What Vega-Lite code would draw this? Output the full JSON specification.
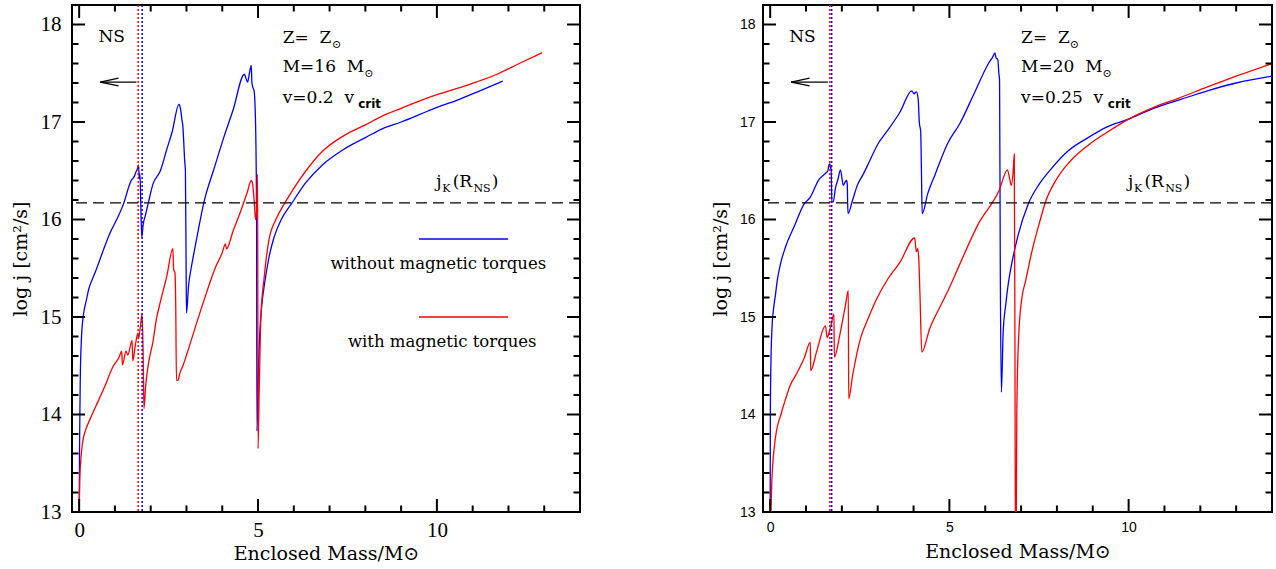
{
"$schema": "https://vega.github.io/schema/vega-lite/v6.json",
"padding": {"left": 10, "top": 3, "right": 0, "bottom": 0},
"spacing": 128,
"config": {"view": {"stroke": "black", "strokeWidth": 2}, "axis": {"grid": false, "domain": false, "ticks": false, "tickSize": 0, "labelColor": "black", "titleColor": "black", "titleFontWeight": "normal", "labelFlush": false}},
"datasets": {
"Lc": [
{"s":"without","m":0.0,"j":13.0},{"s":"without","m":0.01,"j":13.6},{"s":"without","m":0.02,"j":14.0},{"s":"without","m":0.03,"j":14.33},{"s":"without","m":0.06,"j":14.75},{"s":"without","m":0.09,"j":14.93},{"s":"without","m":0.13,"j":15.05},{"s":"without","m":0.2,"j":15.17},{"s":"without","m":0.27,"j":15.29},{"s":"without","m":0.36,"j":15.38},{"s":"without","m":0.46,"j":15.47},{"s":"without","m":0.65,"j":15.66},{"s":"without","m":0.86,"j":15.86},{"s":"without","m":1.05,"j":16.0},{"s":"without","m":1.24,"j":16.16},{"s":"without","m":1.42,"j":16.37},{"s":"without","m":1.47,"j":16.41},{"s":"without","m":1.5,"j":16.42},{"s":"without","m":1.55,"j":16.45},{"s":"without","m":1.59,"j":16.49},{"s":"without","m":1.63,"j":16.52},{"s":"without","m":1.66,"j":16.56},{"s":"without","m":1.68,"j":16.42},{"s":"without","m":1.7,"j":16.47},{"s":"without","m":1.72,"j":16.2},{"s":"without","m":1.75,"j":15.82},{"s":"without","m":1.79,"j":15.95},{"s":"without","m":1.85,"j":16.04},{"s":"without","m":1.94,"j":16.18},{"s":"without","m":2.06,"j":16.36},{"s":"without","m":2.27,"j":16.5},{"s":"without","m":2.45,"j":16.72},{"s":"without","m":2.6,"j":16.9},{"s":"without","m":2.79,"j":17.18},{"s":"without","m":2.81,"j":17.17},{"s":"without","m":2.84,"j":17.12},{"s":"without","m":2.87,"j":17.03},{"s":"without","m":2.9,"j":16.95},{"s":"without","m":2.92,"j":16.82},{"s":"without","m":2.95,"j":16.6},{"s":"without","m":2.97,"j":16.5},{"s":"without","m":2.99,"j":15.5},{"s":"without","m":3.0,"j":15.04},{"s":"without","m":3.06,"j":15.33},{"s":"without","m":3.13,"j":15.5},{"s":"without","m":3.21,"j":15.66},{"s":"without","m":3.35,"j":15.93},{"s":"without","m":3.49,"j":16.18},{"s":"without","m":3.77,"j":16.52},{"s":"without","m":4.05,"j":16.85},{"s":"without","m":4.3,"j":17.12},{"s":"without","m":4.62,"j":17.49},{"s":"without","m":4.66,"j":17.45},{"s":"without","m":4.71,"j":17.41},{"s":"without","m":4.76,"j":17.5},{"s":"without","m":4.81,"j":17.58},{"s":"without","m":4.83,"j":17.4},{"s":"without","m":4.86,"j":17.35},{"s":"without","m":4.89,"j":17.32},{"s":"without","m":4.93,"j":17.0},{"s":"without","m":4.95,"j":16.5},{"s":"without","m":4.96,"j":16.0},{"s":"without","m":4.97,"j":13.83},{"s":"without","m":5.0,"j":14.3},{"s":"without","m":5.05,"j":14.84},{"s":"without","m":5.1,"j":15.1},{"s":"without","m":5.19,"j":15.36},{"s":"without","m":5.3,"j":15.6},{"s":"without","m":5.45,"j":15.82},{"s":"without","m":5.65,"j":16.0},{"s":"without","m":5.95,"j":16.17},{"s":"without","m":6.34,"j":16.38},{"s":"without","m":6.8,"j":16.56},{"s":"without","m":7.4,"j":16.72},{"s":"without","m":8.0,"j":16.84},{"s":"without","m":8.47,"j":16.93},{"s":"without","m":9.0,"j":17.0},{"s":"without","m":9.54,"j":17.08},{"s":"without","m":10.0,"j":17.15},{"s":"without","m":10.61,"j":17.23},{"s":"without","m":11.2,"j":17.32},{"s":"without","m":11.84,"j":17.42},
{"s":"with","m":0.0,"j":13.0},{"s":"with","m":0.02,"j":13.35},{"s":"with","m":0.05,"j":13.55},{"s":"with","m":0.09,"j":13.7},{"s":"with","m":0.19,"j":13.85},{"s":"with","m":0.3,"j":13.95},{"s":"with","m":0.46,"j":14.08},{"s":"with","m":0.73,"j":14.3},{"s":"with","m":0.93,"j":14.48},{"s":"with","m":1.12,"j":14.59},{"s":"with","m":1.19,"j":14.65},{"s":"with","m":1.21,"j":14.51},{"s":"with","m":1.31,"j":14.65},{"s":"with","m":1.36,"j":14.61},{"s":"with","m":1.48,"j":14.76},{"s":"with","m":1.5,"j":14.55},{"s":"with","m":1.57,"j":14.71},{"s":"with","m":1.64,"j":14.83},{"s":"with","m":1.66,"j":14.78},{"s":"with","m":1.71,"j":14.9},{"s":"with","m":1.76,"j":15.03},{"s":"with","m":1.79,"j":14.6},{"s":"with","m":1.81,"j":14.06},{"s":"with","m":1.86,"j":14.3},{"s":"with","m":1.95,"j":14.55},{"s":"with","m":2.06,"j":14.74},{"s":"with","m":2.16,"j":14.98},{"s":"with","m":2.28,"j":15.17},{"s":"with","m":2.45,"j":15.42},{"s":"with","m":2.62,"j":15.7},{"s":"with","m":2.64,"j":15.49},{"s":"with","m":2.66,"j":15.47},{"s":"with","m":2.68,"j":15.45},{"s":"with","m":2.7,"j":15.1},{"s":"with","m":2.72,"j":14.35},{"s":"with","m":2.76,"j":14.35},{"s":"with","m":2.82,"j":14.43},{"s":"with","m":2.9,"j":14.5},{"s":"with","m":3.01,"j":14.62},{"s":"with","m":3.2,"j":14.84},{"s":"with","m":3.39,"j":15.06},{"s":"with","m":3.56,"j":15.25},{"s":"with","m":3.8,"j":15.5},{"s":"with","m":4.0,"j":15.66},{"s":"with","m":4.09,"j":15.75},{"s":"with","m":4.12,"j":15.7},{"s":"with","m":4.3,"j":15.88},{"s":"with","m":4.52,"j":16.09},{"s":"with","m":4.7,"j":16.28},{"s":"with","m":4.81,"j":16.4},{"s":"with","m":4.85,"j":16.36},{"s":"with","m":4.9,"j":16.15},{"s":"with","m":4.93,"j":16.0},{"s":"with","m":4.96,"j":16.1},{"s":"with","m":4.98,"j":16.46},{"s":"with","m":4.99,"j":16.46},{"s":"with","m":5.0,"j":13.65},{"s":"with","m":5.03,"j":14.2},{"s":"with","m":5.08,"j":15.0},{"s":"with","m":5.17,"j":15.4},{"s":"with","m":5.3,"j":15.78},{"s":"with","m":5.5,"j":16.0},{"s":"with","m":5.75,"j":16.17},{"s":"with","m":6.0,"j":16.32},{"s":"with","m":6.34,"j":16.5},{"s":"with","m":6.8,"j":16.7},{"s":"with","m":7.4,"j":16.86},{"s":"with","m":8.0,"j":16.97},{"s":"with","m":8.47,"j":17.06},{"s":"with","m":9.0,"j":17.14},{"s":"with","m":9.54,"j":17.22},{"s":"with","m":10.0,"j":17.28},{"s":"with","m":10.61,"j":17.35},{"s":"with","m":11.1,"j":17.41},{"s":"with","m":11.68,"j":17.49},{"s":"with","m":12.3,"j":17.6},{"s":"with","m":12.94,"j":17.71}
],
"Rc": [
{"s":"without","m":0.0,"j":13.0},{"s":"without","m":0.005,"j":14.0},{"s":"without","m":0.02,"j":14.5},{"s":"without","m":0.05,"j":14.88},{"s":"without","m":0.1,"j":15.1},{"s":"without","m":0.145,"j":15.22},{"s":"without","m":0.2,"j":15.38},{"s":"without","m":0.285,"j":15.54},{"s":"without","m":0.43,"j":15.72},{"s":"without","m":0.66,"j":15.92},{"s":"without","m":0.95,"j":16.16},{"s":"without","m":1.12,"j":16.23},{"s":"without","m":1.36,"j":16.41},{"s":"without","m":1.5,"j":16.46},{"s":"without","m":1.56,"j":16.48},{"s":"without","m":1.61,"j":16.5},{"s":"without","m":1.64,"j":16.56},{"s":"without","m":1.67,"j":16.57},{"s":"without","m":1.69,"j":16.52},{"s":"without","m":1.7,"j":16.54},{"s":"without","m":1.72,"j":16.18},{"s":"without","m":1.76,"j":16.18},{"s":"without","m":1.82,"j":16.32},{"s":"without","m":1.89,"j":16.41},{"s":"without","m":1.96,"j":16.51},{"s":"without","m":2.04,"j":16.35},{"s":"without","m":2.1,"j":16.39},{"s":"without","m":2.13,"j":16.4},{"s":"without","m":2.15,"j":16.36},{"s":"without","m":2.17,"j":16.06},{"s":"without","m":2.3,"j":16.2},{"s":"without","m":2.43,"j":16.35},{"s":"without","m":2.59,"j":16.46},{"s":"without","m":2.71,"j":16.55},{"s":"without","m":3.03,"j":16.79},{"s":"without","m":3.21,"j":16.88},{"s":"without","m":3.62,"j":17.1},{"s":"without","m":3.95,"j":17.32},{"s":"without","m":4.01,"j":17.29},{"s":"without","m":4.08,"j":17.31},{"s":"without","m":4.13,"j":17.23},{"s":"without","m":4.16,"j":17.0},{"s":"without","m":4.2,"j":16.9},{"s":"without","m":4.22,"j":16.5},{"s":"without","m":4.24,"j":16.06},{"s":"without","m":4.4,"j":16.27},{"s":"without","m":4.6,"j":16.46},{"s":"without","m":4.95,"j":16.78},{"s":"without","m":5.3,"j":16.99},{"s":"without","m":5.7,"j":17.3},{"s":"without","m":6.09,"j":17.6},{"s":"without","m":6.14,"j":17.63},{"s":"without","m":6.2,"j":17.66},{"s":"without","m":6.27,"j":17.71},{"s":"without","m":6.3,"j":17.66},{"s":"without","m":6.35,"j":17.64},{"s":"without","m":6.38,"j":17.5},{"s":"without","m":6.4,"j":17.42},{"s":"without","m":6.42,"j":15.5},{"s":"without","m":6.45,"j":14.23},{"s":"without","m":6.5,"j":14.84},{"s":"without","m":6.58,"j":15.15},{"s":"without","m":6.65,"j":15.36},{"s":"without","m":6.71,"j":15.49},{"s":"without","m":6.91,"j":15.83},{"s":"without","m":7.2,"j":16.16},{"s":"without","m":7.5,"j":16.36},{"s":"without","m":7.84,"j":16.52},{"s":"without","m":8.3,"j":16.7},{"s":"without","m":8.87,"j":16.84},{"s":"without","m":9.4,"j":16.95},{"s":"without","m":10.0,"j":17.03},{"s":"without","m":10.7,"j":17.14},{"s":"without","m":11.44,"j":17.23},{"s":"without","m":12.2,"j":17.32},{"s":"without","m":13.0,"j":17.4},{"s":"without","m":14.0,"j":17.47},
{"s":"with","m":0.02,"j":13.0},{"s":"with","m":0.05,"j":13.35},{"s":"with","m":0.07,"j":13.48},{"s":"with","m":0.12,"j":13.68},{"s":"with","m":0.17,"j":13.82},{"s":"with","m":0.3,"j":14.0},{"s":"with","m":0.43,"j":14.16},{"s":"with","m":0.56,"j":14.3},{"s":"with","m":0.74,"j":14.42},{"s":"with","m":0.95,"j":14.58},{"s":"with","m":1.12,"j":14.74},{"s":"with","m":1.13,"j":14.45},{"s":"with","m":1.3,"j":14.65},{"s":"with","m":1.54,"j":14.91},{"s":"with","m":1.59,"j":14.79},{"s":"with","m":1.68,"j":14.89},{"s":"with","m":1.78,"j":15.03},{"s":"with","m":1.79,"j":14.59},{"s":"with","m":1.95,"j":14.83},{"s":"with","m":2.1,"j":15.12},{"s":"with","m":2.18,"j":15.27},{"s":"with","m":2.19,"j":14.16},{"s":"with","m":2.3,"j":14.4},{"s":"with","m":2.52,"j":14.78},{"s":"with","m":2.75,"j":15.0},{"s":"with","m":2.99,"j":15.2},{"s":"with","m":3.3,"j":15.4},{"s":"with","m":3.62,"j":15.56},{"s":"with","m":4.03,"j":15.81},{"s":"with","m":4.08,"j":15.67},{"s":"with","m":4.12,"j":15.7},{"s":"with","m":4.15,"j":15.56},{"s":"with","m":4.18,"j":15.22},{"s":"with","m":4.23,"j":14.64},{"s":"with","m":4.45,"j":14.88},{"s":"with","m":4.76,"j":15.12},{"s":"with","m":5.0,"j":15.3},{"s":"with","m":5.3,"j":15.55},{"s":"with","m":5.8,"j":15.95},{"s":"with","m":6.39,"j":16.3},{"s":"with","m":6.62,"j":16.51},{"s":"with","m":6.68,"j":16.42},{"s":"with","m":6.73,"j":16.35},{"s":"with","m":6.78,"j":16.5},{"s":"with","m":6.81,"j":16.67},{"s":"with","m":6.83,"j":14.5},{"s":"with","m":6.845,"j":12.5},{"s":"with","m":6.86,"j":12.5},{"s":"with","m":6.88,"j":14.0},{"s":"with","m":6.93,"j":14.78},{"s":"with","m":7.02,"j":15.19},{"s":"with","m":7.12,"j":15.36},{"s":"with","m":7.32,"j":15.7},{"s":"with","m":7.5,"j":15.95},{"s":"with","m":7.68,"j":16.18},{"s":"with","m":8.0,"j":16.42},{"s":"with","m":8.35,"j":16.59},{"s":"with","m":8.9,"j":16.77},{"s":"with","m":9.38,"j":16.89},{"s":"with","m":10.05,"j":17.04},{"s":"with","m":10.7,"j":17.15},{"s":"with","m":11.44,"j":17.25},{"s":"with","m":12.2,"j":17.36},{"s":"with","m":13.0,"j":17.47},{"s":"with","m":14.0,"j":17.6}
],
"Lt": [
{"r":"main","x":0.54,"y":17.87,"t":"NS"},{"r":"main","x":5.69,"y":17.86,"t":"Z=\u00a0\u00a0Z"},{"r":"main","x":5.69,"y":17.56,"t":"M=16\u00a0\u00a0M"},{"r":"main","x":5.69,"y":17.25,"t":"v=0.2\u00a0\u00a0v"},{"r":"main","x":9.98,"y":16.38,"t":"j"},{"r":"main","x":10.44,"y":16.38,"t":"(R"},{"r":"main","x":11.53,"y":16.38,"t":")"},
{"r":"sub","x":7.07,"y":17.79,"t":"⊙"},{"r":"sub","x":7.97,"y":17.49,"t":"⊙"},{"r":"sub","x":10.15,"y":16.31,"t":"K"},{"r":"sub","x":11.02,"y":16.31,"t":"NS"},
{"r":"crit","x":7.8,"y":17.18,"t":"crit"},
{"r":"leg","x":10.04,"y":15.54,"t":"without magnetic torques"},{"r":"leg","x":10.15,"y":14.74,"t":"with magnetic torques"}
],
"Rt": [
{"r":"main","x":0.53,"y":17.87,"t":"NS"},{"r":"main","x":7.0,"y":17.86,"t":"Z=\u00a0\u00a0Z"},{"r":"main","x":7.0,"y":17.56,"t":"M=20\u00a0\u00a0M"},{"r":"main","x":7.0,"y":17.25,"t":"v=0.25\u00a0\u00a0v"},{"r":"main","x":9.98,"y":16.38,"t":"j"},{"r":"main","x":10.44,"y":16.38,"t":"(R"},{"r":"main","x":11.53,"y":16.38,"t":")"},
{"r":"sub","x":8.36,"y":17.79,"t":"⊙"},{"r":"sub","x":9.27,"y":17.49,"t":"⊙"},{"r":"sub","x":10.15,"y":16.31,"t":"K"},{"r":"sub","x":11.02,"y":16.31,"t":"NS"},
{"r":"crit","x":9.42,"y":17.18,"t":"crit"}
],
"tk": [
{"a":0,"b":13,"c":0,"d":13.133},{"a":5,"b":13,"c":5,"d":13.133},{"a":10,"b":13,"c":10,"d":13.133},
{"a":1,"b":13,"c":1,"d":13.067},{"a":2,"b":13,"c":2,"d":13.067},{"a":3,"b":13,"c":3,"d":13.067},{"a":4,"b":13,"c":4,"d":13.067},{"a":6,"b":13,"c":6,"d":13.067},{"a":7,"b":13,"c":7,"d":13.067},{"a":8,"b":13,"c":8,"d":13.067},{"a":9,"b":13,"c":9,"d":13.067},{"a":11,"b":13,"c":11,"d":13.067},{"a":12,"b":13,"c":12,"d":13.067},{"a":13,"b":13,"c":13,"d":13.067},
{"a":0,"b":18.2,"c":0,"d":18.067},{"a":5,"b":18.2,"c":5,"d":18.067},{"a":10,"b":18.2,"c":10,"d":18.067},
{"a":1,"b":18.2,"c":1,"d":18.133},{"a":2,"b":18.2,"c":2,"d":18.133},{"a":3,"b":18.2,"c":3,"d":18.133},{"a":4,"b":18.2,"c":4,"d":18.133},{"a":6,"b":18.2,"c":6,"d":18.133},{"a":7,"b":18.2,"c":7,"d":18.133},{"a":8,"b":18.2,"c":8,"d":18.133},{"a":9,"b":18.2,"c":9,"d":18.133},{"a":11,"b":18.2,"c":11,"d":18.133},{"a":12,"b":18.2,"c":12,"d":18.133},{"a":13,"b":18.2,"c":13,"d":18.133},
{"a":-0.2,"b":14,"c":0.163,"d":14},{"a":-0.2,"b":15,"c":0.163,"d":15},{"a":-0.2,"b":16,"c":0.163,"d":16},{"a":-0.2,"b":17,"c":0.163,"d":17},{"a":-0.2,"b":18,"c":0.163,"d":18},
{"a":-0.2,"b":13.2,"c":-0.018,"d":13.2},{"a":-0.2,"b":13.4,"c":-0.018,"d":13.4},{"a":-0.2,"b":13.6,"c":-0.018,"d":13.6},{"a":-0.2,"b":13.8,"c":-0.018,"d":13.8},{"a":-0.2,"b":14.2,"c":-0.018,"d":14.2},{"a":-0.2,"b":14.4,"c":-0.018,"d":14.4},{"a":-0.2,"b":14.6,"c":-0.018,"d":14.6},{"a":-0.2,"b":14.8,"c":-0.018,"d":14.8},{"a":-0.2,"b":15.2,"c":-0.018,"d":15.2},{"a":-0.2,"b":15.4,"c":-0.018,"d":15.4},{"a":-0.2,"b":15.6,"c":-0.018,"d":15.6},{"a":-0.2,"b":15.8,"c":-0.018,"d":15.8},{"a":-0.2,"b":16.2,"c":-0.018,"d":16.2},{"a":-0.2,"b":16.4,"c":-0.018,"d":16.4},{"a":-0.2,"b":16.6,"c":-0.018,"d":16.6},{"a":-0.2,"b":16.8,"c":-0.018,"d":16.8},{"a":-0.2,"b":17.2,"c":-0.018,"d":17.2},{"a":-0.2,"b":17.4,"c":-0.018,"d":17.4},{"a":-0.2,"b":17.6,"c":-0.018,"d":17.6},{"a":-0.2,"b":17.8,"c":-0.018,"d":17.8},
{"a":14,"b":14,"c":13.637,"d":14},{"a":14,"b":15,"c":13.637,"d":15},{"a":14,"b":16,"c":13.637,"d":16},{"a":14,"b":17,"c":13.637,"d":17},{"a":14,"b":18,"c":13.637,"d":18},
{"a":14,"b":13.2,"c":13.818,"d":13.2},{"a":14,"b":13.4,"c":13.818,"d":13.4},{"a":14,"b":13.6,"c":13.818,"d":13.6},{"a":14,"b":13.8,"c":13.818,"d":13.8},{"a":14,"b":14.2,"c":13.818,"d":14.2},{"a":14,"b":14.4,"c":13.818,"d":14.4},{"a":14,"b":14.6,"c":13.818,"d":14.6},{"a":14,"b":14.8,"c":13.818,"d":14.8},{"a":14,"b":15.2,"c":13.818,"d":15.2},{"a":14,"b":15.4,"c":13.818,"d":15.4},{"a":14,"b":15.6,"c":13.818,"d":15.6},{"a":14,"b":15.8,"c":13.818,"d":15.8},{"a":14,"b":16.2,"c":13.818,"d":16.2},{"a":14,"b":16.4,"c":13.818,"d":16.4},{"a":14,"b":16.6,"c":13.818,"d":16.6},{"a":14,"b":16.8,"c":13.818,"d":16.8},{"a":14,"b":17.2,"c":13.818,"d":17.2},{"a":14,"b":17.4,"c":13.818,"d":17.4},{"a":14,"b":17.6,"c":13.818,"d":17.6},{"a":14,"b":17.8,"c":13.818,"d":17.8}
],
"Lv": [{"s":"with","x":1.65},{"s":"without","x":1.76}],
"Rv": [{"s":"with","x":1.665},{"s":"without","x":1.715}],
"jk": [{"y":16.17}],
"Larr": [{"x1":0.59,"y1":17.41,"x2":1.6,"y2":17.41},{"x1":0.59,"y1":17.41,"x2":1.1,"y2":17.45},{"x1":0.59,"y1":17.41,"x2":1.1,"y2":17.37}],
"Rarr": [{"x1":0.585,"y1":17.41,"x2":1.61,"y2":17.41},{"x1":0.585,"y1":17.41,"x2":1.1,"y2":17.45},{"x1":0.585,"y1":17.41,"x2":1.1,"y2":17.37}],
"Lleg": [{"s":"without","x1":9.5,"x2":11.99,"y":15.8},{"s":"with","x1":9.5,"x2":11.99,"y":15.0}]
},
"hconcat": [
{
"width": 508, "height": 507,
"resolve": {"axis": {"x": "independent", "y": "independent"}},
"layer": [
{"data": {"name": "Lc"}, "mark": {"type": "line", "strokeWidth": 1.3, "clip": true, "interpolate": "monotone"},
 "encoding": {
  "x": {"field": "m", "type": "quantitative", "scale": {"domain": [-0.2, 14], "nice": false, "zero": false},
        "axis": {"orient": "bottom", "values": [0, 5, 10], "labelFont": "Liberation Serif", "labelFontSize": 21, "labelPadding": 7, "title": "Enclosed Mass/M⊙", "titleFont": "DejaVu Serif", "titleFontSize": 19, "titlePadding": 4}},
  "y": {"field": "j", "type": "quantitative", "scale": {"domain": [13, 18.2], "nice": false, "zero": false},
        "axis": {"orient": "left", "values": [13, 14, 15, 16, 17, 18], "labelFont": "Liberation Serif", "labelFontSize": 21, "labelPadding": 11, "title": "log j [cm²/s]", "titleFont": "DejaVu Serif", "titleFontSize": 19, "titlePadding": 10}},
  "color": {"field": "s", "type": "nominal", "scale": {"domain": ["without", "with"], "range": ["#0000ff", "#ff0000"]}, "legend": null}}},
{"data": {"name": "Lt"}, "transform": [{"filter": "datum.r == 'main'"}],
 "mark": {"type": "text", "font": "DejaVu Serif", "fontSize": 17, "align": "left", "baseline": "middle", "color": "black"},
 "encoding": {
  "x": {"field": "x", "type": "quantitative", "scale": {"domain": [-0.2, 14], "nice": false, "zero": false}, "axis": null},
  "y": {"field": "y", "type": "quantitative", "scale": {"domain": [13, 18.2], "nice": false, "zero": false}, "axis": null},
  "text": {"field": "t"}}},
{"data": {"name": "Lt"}, "transform": [{"filter": "datum.r == 'sub'"}],
 "mark": {"type": "text", "font": "DejaVu Serif", "fontSize": 11, "align": "left", "baseline": "middle", "color": "black"},
 "encoding": {
  "x": {"field": "x", "type": "quantitative", "scale": {"domain": [-0.2, 14], "nice": false, "zero": false}, "axis": null},
  "y": {"field": "y", "type": "quantitative", "scale": {"domain": [13, 18.2], "nice": false, "zero": false}, "axis": null},
  "text": {"field": "t"}}},
{"data": {"name": "Lt"}, "transform": [{"filter": "datum.r == 'crit'"}],
 "mark": {"type": "text", "font": "DejaVu Sans", "fontSize": 12, "fontWeight": "bold", "align": "left", "baseline": "middle", "color": "black"},
 "encoding": {
  "x": {"field": "x", "type": "quantitative", "scale": {"domain": [-0.2, 14], "nice": false, "zero": false}, "axis": null},
  "y": {"field": "y", "type": "quantitative", "scale": {"domain": [13, 18.2], "nice": false, "zero": false}, "axis": null},
  "text": {"field": "t"}}},
{"data": {"name": "Lt"}, "transform": [{"filter": "datum.r == 'leg'"}],
 "mark": {"type": "text", "font": "DejaVu Serif", "fontSize": 16.5, "align": "center", "baseline": "middle", "color": "black"},
 "encoding": {
  "x": {"field": "x", "type": "quantitative", "scale": {"domain": [-0.2, 14], "nice": false, "zero": false}, "axis": null},
  "y": {"field": "y", "type": "quantitative", "scale": {"domain": [13, 18.2], "nice": false, "zero": false}, "axis": null},
  "text": {"field": "t"}}},
{"data": {"name": "Lv"}, "mark": {"type": "rule", "strokeWidth": 1.5, "strokeDash": [2, 2]},
 "encoding": {
  "x": {"field": "x", "type": "quantitative", "scale": {"domain": [-0.2, 14], "nice": false, "zero": false}, "axis": null},
  "color": {"field": "s", "type": "nominal", "scale": {"domain": ["without", "with"], "range": ["#0000ff", "#ff0000"]}, "legend": null}}},
{"data": {"name": "jk"}, "mark": {"type": "rule", "strokeWidth": 1.3, "strokeDash": [11, 6], "color": "black"},
 "encoding": {
  "y": {"field": "y", "type": "quantitative", "scale": {"domain": [13, 18.2], "nice": false, "zero": false}, "axis": null}}},
{"data": {"name": "Larr"}, "mark": {"type": "rule", "strokeWidth": 1.3, "color": "black"},
 "encoding": {
  "x": {"field": "x1", "type": "quantitative", "scale": {"domain": [-0.2, 14], "nice": false, "zero": false}, "axis": null},
  "x2": {"field": "x2"},
  "y": {"field": "y1", "type": "quantitative", "scale": {"domain": [13, 18.2], "nice": false, "zero": false}, "axis": null},
  "y2": {"field": "y2"}}},
{"data": {"name": "Lleg"}, "mark": {"type": "rule", "strokeWidth": 1.3},
 "encoding": {
  "x": {"field": "x1", "type": "quantitative", "scale": {"domain": [-0.2, 14], "nice": false, "zero": false}, "axis": null},
  "x2": {"field": "x2"},
  "y": {"field": "y", "type": "quantitative", "scale": {"domain": [13, 18.2], "nice": false, "zero": false}, "axis": null},
  "color": {"field": "s", "type": "nominal", "scale": {"domain": ["without", "with"], "range": ["#0000ff", "#ff0000"]}, "legend": null}}},
{"data": {"name": "tk"}, "mark": {"type": "rule", "strokeWidth": 2, "color": "#000000", "opacity": 1},
 "encoding": {
  "x": {"field": "a", "type": "quantitative", "scale": {"domain": [-0.2, 14], "nice": false, "zero": false}, "axis": null},
  "x2": {"field": "c"},
  "y": {"field": "b", "type": "quantitative", "scale": {"domain": [13, 18.2], "nice": false, "zero": false}, "axis": null},
  "y2": {"field": "d"}}}
]
},
{
"width": 509, "height": 507,
"resolve": {"axis": {"x": "independent", "y": "independent"}},
"layer": [
{"data": {"name": "Rc"}, "mark": {"type": "line", "strokeWidth": 1.3, "clip": true, "interpolate": "monotone"},
 "encoding": {
  "x": {"field": "m", "type": "quantitative", "scale": {"domain": [-0.2, 14], "nice": false, "zero": false},
        "axis": {"orient": "bottom", "values": [0, 5, 10], "labelFont": "Liberation Sans", "labelFontSize": 14, "labelPadding": 8, "title": "Enclosed Mass/M⊙", "titleFont": "DejaVu Serif", "titleFontSize": 19, "titlePadding": 8}},
  "y": {"field": "j", "type": "quantitative", "scale": {"domain": [13, 18.2], "nice": false, "zero": false},
        "axis": {"orient": "left", "values": [13, 14, 15, 16, 17, 18], "labelFont": "Liberation Sans", "labelFontSize": 14, "labelPadding": 8, "title": "log j [cm²/s]", "titleFont": "DejaVu Serif", "titleFontSize": 19, "titlePadding": 9}},
  "color": {"field": "s", "type": "nominal", "scale": {"domain": ["without", "with"], "range": ["#0000ff", "#ff0000"]}, "legend": null}}},
{"data": {"name": "Rt"}, "transform": [{"filter": "datum.r == 'main'"}],
 "mark": {"type": "text", "font": "DejaVu Serif", "fontSize": 17, "align": "left", "baseline": "middle", "color": "black"},
 "encoding": {
  "x": {"field": "x", "type": "quantitative", "scale": {"domain": [-0.2, 14], "nice": false, "zero": false}, "axis": null},
  "y": {"field": "y", "type": "quantitative", "scale": {"domain": [13, 18.2], "nice": false, "zero": false}, "axis": null},
  "text": {"field": "t"}}},
{"data": {"name": "Rt"}, "transform": [{"filter": "datum.r == 'sub'"}],
 "mark": {"type": "text", "font": "DejaVu Serif", "fontSize": 11, "align": "left", "baseline": "middle", "color": "black"},
 "encoding": {
  "x": {"field": "x", "type": "quantitative", "scale": {"domain": [-0.2, 14], "nice": false, "zero": false}, "axis": null},
  "y": {"field": "y", "type": "quantitative", "scale": {"domain": [13, 18.2], "nice": false, "zero": false}, "axis": null},
  "text": {"field": "t"}}},
{"data": {"name": "Rt"}, "transform": [{"filter": "datum.r == 'crit'"}],
 "mark": {"type": "text", "font": "DejaVu Sans", "fontSize": 12, "fontWeight": "bold", "align": "left", "baseline": "middle", "color": "black"},
 "encoding": {
  "x": {"field": "x", "type": "quantitative", "scale": {"domain": [-0.2, 14], "nice": false, "zero": false}, "axis": null},
  "y": {"field": "y", "type": "quantitative", "scale": {"domain": [13, 18.2], "nice": false, "zero": false}, "axis": null},
  "text": {"field": "t"}}},
{"data": {"name": "Rv"}, "mark": {"type": "rule", "strokeWidth": 1.5, "strokeDash": [2, 2]},
 "encoding": {
  "x": {"field": "x", "type": "quantitative", "scale": {"domain": [-0.2, 14], "nice": false, "zero": false}, "axis": null},
  "color": {"field": "s", "type": "nominal", "scale": {"domain": ["without", "with"], "range": ["#0000ff", "#ff0000"]}, "legend": null}}},
{"data": {"name": "jk"}, "mark": {"type": "rule", "strokeWidth": 1.3, "strokeDash": [11, 6], "color": "black"},
 "encoding": {
  "y": {"field": "y", "type": "quantitative", "scale": {"domain": [13, 18.2], "nice": false, "zero": false}, "axis": null}}},
{"data": {"name": "Rarr"}, "mark": {"type": "rule", "strokeWidth": 1.3, "color": "black"},
 "encoding": {
  "x": {"field": "x1", "type": "quantitative", "scale": {"domain": [-0.2, 14], "nice": false, "zero": false}, "axis": null},
  "x2": {"field": "x2"},
  "y": {"field": "y1", "type": "quantitative", "scale": {"domain": [13, 18.2], "nice": false, "zero": false}, "axis": null},
  "y2": {"field": "y2"}}},
{"data": {"name": "tk"}, "mark": {"type": "rule", "strokeWidth": 2, "color": "#000000", "opacity": 1},
 "encoding": {
  "x": {"field": "a", "type": "quantitative", "scale": {"domain": [-0.2, 14], "nice": false, "zero": false}, "axis": null},
  "x2": {"field": "c"},
  "y": {"field": "b", "type": "quantitative", "scale": {"domain": [13, 18.2], "nice": false, "zero": false}, "axis": null},
  "y2": {"field": "d"}}}
]
}
]
}
